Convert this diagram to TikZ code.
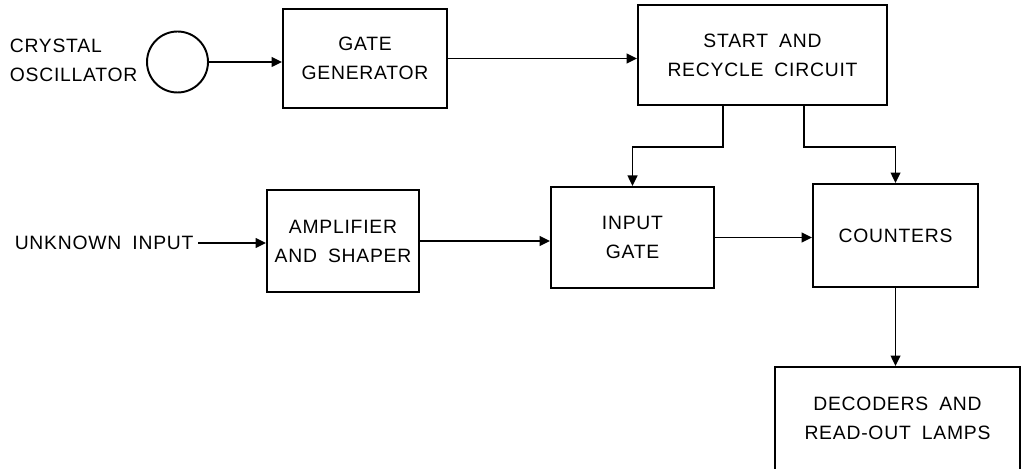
\documentclass[tikz,border=0pt]{standalone}
\usepackage{fontspec}
\setmainfont[LetterSpace=4, WordSpace=1.8]{Liberation Sans}
\usepackage{tikz}
\usetikzlibrary{arrows.meta,positioning}

\begin{document}
\begin{tikzpicture}[x=0.02cm, y=-0.02cm, line width=1.1pt,
  font=\fontsize{11}{16.5}\selectfont,
  box/.style={draw, align=center, inner sep=0pt},
  arr/.style={-{Triangle[length=6pt, width=5.5pt]}}]
\useasboundingbox (0,0) rectangle (1030,469);
% top row
\node[align=left, anchor=west] (osclbl) at (3,60) {CRYSTAL\\OSCILLATOR};
\node[draw, circle, minimum size=1.22cm, inner sep=0pt] (osc) at (177.5,62) {};
\node[box, minimum width=3.28cm, minimum height=1.98cm] (gate) at (365,58.5) {GATE\\GENERATOR};
\node[box, minimum width=4.98cm, minimum height=2.0cm] (start) at (762.5,55) {START AND\\RECYCLE CIRCUIT};
% middle row
\node[anchor=east, inner sep=2pt] (unk) at (198,243) {UNKNOWN INPUT};
\node[box, minimum width=3.04cm, minimum height=2.04cm] (amp) at (343,241) {AMPLIFIER\\AND SHAPER};
\node[box, minimum width=3.26cm, minimum height=2.02cm] (ingate) at (632.5,237.5) {INPUT\\GATE};
\node[box, minimum width=3.3cm, minimum height=2.06cm] (count) at (895.5,235.5) {COUNTERS};
% bottom
\node[box, minimum width=4.9cm, minimum height=2.06cm] (decode) at (897.5,418.5) {DECODERS AND\\READ-OUT LAMPS};
\draw[arr] (osc.east) -- (osc.east -| gate.west);
\draw[arr] (gate.east) -- (gate.east -| start.west);
\draw[arr] ([xshift=-0.79cm]start.south) -- ++(0,-0.82cm) -| (ingate.north);
\draw[arr] ([xshift=0.83cm]start.south) -- ++(0,-0.82cm) -| (count.north);
\draw[arr] (unk.east) -- (unk.east -| amp.west);
\draw[arr] (amp.east) -- (amp.east -| ingate.west);
\draw[arr] (ingate.east) -- (ingate.east -| count.west);
\draw[arr] (count.south) -- (count.south |- decode.north);
\end{tikzpicture}
\end{document}
